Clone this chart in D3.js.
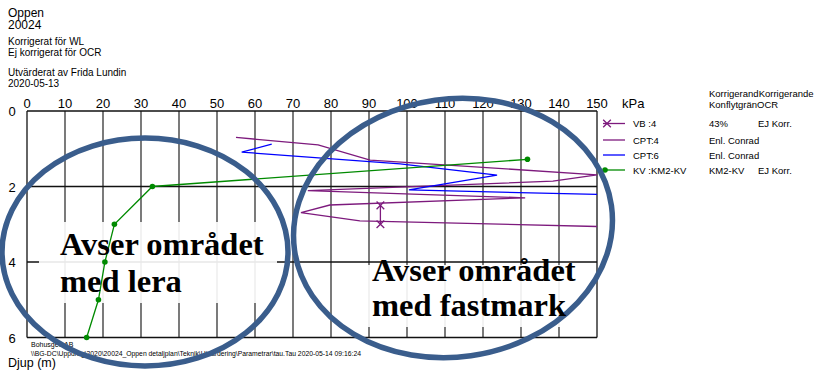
<!DOCTYPE html>
<html><head><meta charset="utf-8">
<script src="https://cdn.jsdelivr.net/npm/d3@7"></script>
<style>body{margin:0;background:#fff}svg{display:block;font-family:"Liberation Sans",Arial,sans-serif}</style>
</head><body><svg id="c" width="815" height="374"></svg>
<script>
// ---- data ----
const xTickValues = [0,10,20,30,40,50,60,70,80,90,100,110,120,130,140,150];
const depthTickValues = [0,2,4,6];
const headerLines = ["Oppen","20024","Korrigerat för WL","Ej korrigerat för OCR","Utvärderat av Frida Lundin","2020-05-13"];

const kvValue = [15.7, 18.8, 20.5, 23.0, 33.0, 131.7];
const kvDepth = [6.0, 5.0, 4.0, 3.0, 2.0, 1.28];

const vbValue = [93, 93];
const vbDepth = [2.5, 3.0];

const cpt4Value = [55.0, 76.6, 90.3, 150, 138.4, 73.9, 131.1, 79.7, 72.1, 87.6, 150];
const cpt4Depth = [0.70, 0.90, 1.30, 1.69, 1.86, 2.11, 2.30, 2.49, 2.69, 2.91, 3.06];

const cpt6Value = [64.4, 56.5, 98.2, 123.7, 100.5, 150];
const cpt6Depth = [0.88, 1.09, 1.40, 1.70, 2.09, 2.21];

const legendNames = ["VB :4","CPT:4","CPT:6","KV :KM2-KV"];
const legendCol2 = ["43%","Enl. Conrad","Enl. Conrad","KM2-KV"];
const legendCol3 = ["EJ Korr.","","","EJ Korr."];
const legendHeader = ["KorrigerandKorrigerande","KonflytgränOCR"];
const footerLines = ["Bohusgeo AB","\\\\BG-DC\\Uppdrag\\2020\\20024_Oppen detaljplan\\Teknik\\Utvärdering\\Parametrar\\tau.Tau 2020-05-14 09:16:24"];
const noteLeft = ["Avser området","med lera"];
const noteRight = ["Avser området","med fastmark"];

// ---- drawing ----
const svg = d3.select("#c");
const x = d3.scaleLinear().domain([0,150]).range([27,597]);
const y = d3.scaleLinear().domain([0,6]).range([111,337.5]);
const PURPLE="#7d1a7d", BLUE="#0000ff", GREEN="#008a00", ELL="#3a5d8c";

// header
const hdr = [[12,16.5],[12,29],[10,44.5],[10,55.5],[10,75.5],[10,86.5]];
headerLines.forEach((t,i)=>svg.append("text").attr("x",8).attr("y",hdr[i][1]).attr("font-size",hdr[i][0]).text(t));

// grid
const g = svg.append("g");
g.selectAll("line.v").data(xTickValues.slice(1,-1)).join("line")
  .attr("x1",d=>x(d)).attr("x2",d=>x(d)).attr("y1",y(0)).attr("y2",y(6))
  .attr("stroke","#333").attr("stroke-width",1.3);
g.append("line").attr("x1",x(150)).attr("x2",x(150)).attr("y1",y(0)).attr("y2",y(6)).attr("stroke","#666").attr("stroke-width",2);
g.selectAll("line.h").data(depthTickValues).join("line")
  .attr("x1",x(0)).attr("x2",x(150)).attr("y1",d=>y(d)).attr("y2",d=>y(d))
  .attr("stroke","#111").attr("stroke-width",1.3);
g.append("line").attr("x1",x(0)).attr("x2",x(0)).attr("y1",y(0)).attr("y2",y(6)).attr("stroke","#111").attr("stroke-width",1.3);

// white text boxes (semi-opaque) over grid
svg.append("rect").attr("x",39).attr("y",222).attr("width",238).attr("height",81).attr("fill","#fff").attr("opacity",0.9);
svg.append("rect").attr("x",366).attr("y",265).attr("width",224).attr("height",62).attr("fill","#fff").attr("opacity",0.9);

// axis labels
svg.append("g").selectAll("text").data(xTickValues).join("text")
  .attr("x",d=>x(d)).attr("y",108).attr("text-anchor","middle").attr("font-size",13).text(d=>d);
svg.append("g").selectAll("text").data(depthTickValues).join("text")
  .attr("x",12).attr("y",d=>y(d)+5).attr("text-anchor","middle").attr("font-size",13).text(d=>d);
svg.append("text").attr("x",622).attr("y",108).attr("font-size",13).text("kPa");
svg.append("text").attr("x",8).attr("y",367).attr("font-size",12.5).text("Djup (m)");

// footer
svg.append("text").attr("x",31).attr("y",347).attr("font-size",7).text(footerLines[0]);
svg.append("text").attr("x",31).attr("y",355.5).attr("font-size",7).attr("textLength",330).attr("lengthAdjust","spacingAndGlyphs").text(footerLines[1]);

// series
const line = d3.line().x(d=>x(d[0])).y(d=>y(d[1]));
const zip = (a,b)=>a.map((v,i)=>[v,b[i]]);
svg.append("path").datum(zip(cpt4Value,cpt4Depth)).attr("d",line).attr("fill","none").attr("stroke",PURPLE).attr("stroke-width",1.3);
svg.append("path").datum(zip(cpt6Value,cpt6Depth)).attr("d",line).attr("fill","none").attr("stroke",BLUE).attr("stroke-width",1.3);
const kv = zip(kvValue,kvDepth);
svg.append("path").datum(kv).attr("d",line).attr("fill","none").attr("stroke",GREEN).attr("stroke-width",1.3);
svg.append("g").selectAll("circle").data(kv).join("circle").attr("cx",d=>x(d[0])).attr("cy",d=>y(d[1])).attr("r",2.8).attr("fill",GREEN);
const vb = zip(vbValue,vbDepth);
svg.append("path").datum(vb).attr("d",line).attr("fill","none").attr("stroke",PURPLE).attr("stroke-width",1.3);
const cross = d3.symbol().type(d3.symbolX).size(40);
svg.append("g").selectAll("path").data(vb).join("path").attr("d",cross)
  .attr("transform",d=>`translate(${x(d[0])},${y(d[1])})`).attr("stroke",PURPLE).attr("stroke-width",1.3).attr("fill","none");

// legend
const ly=[123.5,140,155,170];
const lcol=[PURPLE,PURPLE,BLUE,GREEN];
legendNames.forEach((n,i)=>{
  svg.append("line").attr("x1",603).attr("x2",625).attr("y1",ly[i]).attr("y2",ly[i]).attr("stroke",lcol[i]).attr("stroke-width",1.3);
  svg.append("text").attr("x",633).attr("y",ly[i]+3.6).attr("font-size",9.5).text(n);
  svg.append("text").attr("x",709).attr("y",ly[i]+3.6).attr("font-size",9.5).text(legendCol2[i]);
  if(legendCol3[i]) svg.append("text").attr("x",758).attr("y",ly[i]+3.6).attr("font-size",9.5).text(legendCol3[i]);
});
svg.append("path").attr("d",cross).attr("transform",`translate(607,${ly[0]})`).attr("stroke",PURPLE).attr("stroke-width",1.3).attr("fill","none");
svg.append("circle").attr("cx",605).attr("cy",ly[3]).attr("r",2.8).attr("fill",GREEN);
svg.append("text").attr("x",709).attr("y",96.5).attr("font-size",9.5).text(legendHeader[0]);
svg.append("text").attr("x",709).attr("y",108).attr("font-size",9.5).text(legendHeader[1]);

// annotation ellipses and text
svg.append("ellipse").attr("cx",145).attr("cy",252).attr("rx",143).attr("ry",114).attr("fill","none").attr("stroke",ELL).attr("stroke-width",5.5);
svg.append("ellipse").attr("cx",453).attr("cy",228).attr("rx",160).attr("ry",129).attr("transform","rotate(-8,453,228)").attr("fill","none").attr("stroke",ELL).attr("stroke-width",5.5);
const serif='"Liberation Serif","Times New Roman",serif';
noteLeft.forEach((t,i)=>svg.append("text").attr("x",60).attr("y",255+i*36.5).style("font-family",serif).style("font-weight","bold").attr("font-size",32.5).text(t));
noteRight.forEach((t,i)=>svg.append("text").attr("x",372).attr("y",281+i*35).style("font-family",serif).style("font-weight","bold").attr("font-size",32.5).text(t));
</script></body></html>
